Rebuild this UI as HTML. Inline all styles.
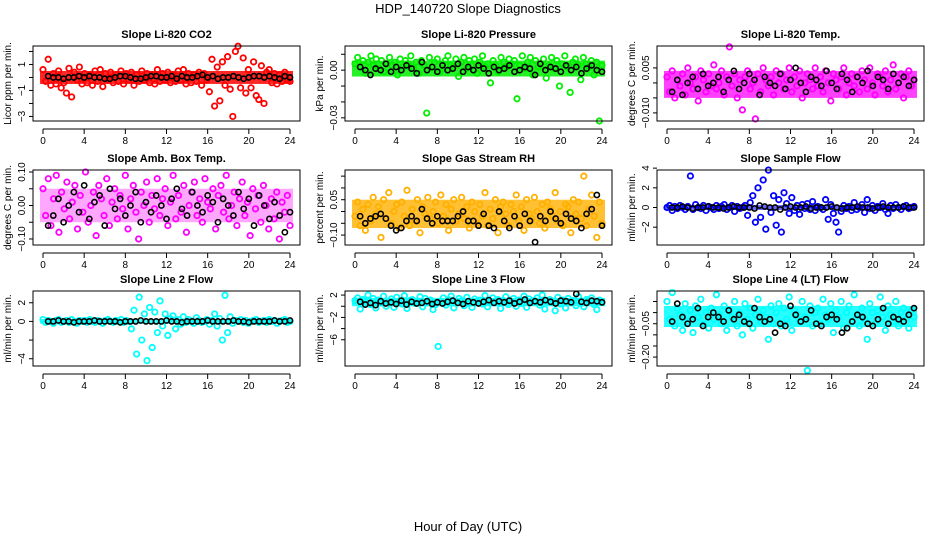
<!DOCTYPE html>
<html><head><meta charset="utf-8"><style>
body{margin:0;background:#fff}
svg{display:block;font-family:"Liberation Sans",sans-serif}
</style></head><body>
<svg id="c" width="936" height="540">
<text x="468" y="13" text-anchor="middle" font-size="13">HDP_140720  Slope Diagnostics</text>
<text x="468" y="531" text-anchor="middle" font-size="13">Hour of Day (UTC)</text>
</svg>
<script>
const xTicks=[0,4,8,12,16,20,24];
const titles=["Slope Li-820 CO2","Slope Li-820 Pressure","Slope Li-820 Temp.","Slope Amb. Box Temp.","Slope Gas Stream RH","Slope Sample Flow","Slope Line 2 Flow","Slope Line 3 Flow","Slope Line 4 (LT) Flow"];
const yTitles=["Licor ppm per min.","kPa per min.","degrees C per min.","degrees C per min.","percent per min.","ml/min per min.","ml/min per min.","ml/min per min.","ml/min per min."];
const scales=[0.1,0.001,0.001,0.01,0.01,0.1,0.1,0.1,0.01];
const yRanges=[[-3.35,2.42],[-0.032,0.0152],[-0.0127,0.0123],[-0.118,0.106],[-0.142,0.176],[-3.81,3.81],[-4.78,3.26],[-10.7,2.73],[-0.24,0.097]];
const yTickVals=[[-3,-2,-1,0,1,2],[-0.03,-0.02,-0.01,0,0.01],[-0.01,-0.005,0,0.005],[-0.1,-0.05,0,0.05,0.1],[-0.1,-0.05,0,0.05,0.1,0.15],[-2,0,2,4],[-4,-2,0,2],[-6,-4,-2,0,2],[-0.2,-0.15,-0.1,-0.05,0,0.05]];
const yTickLabels=[{"-3":"\u22123","-1":"\u22121","1":"1"},{"0":"0.00","-0.03":"\u22120.03"},{"0.005":"0.005","-0.01":"\u22120.010"},{"0.1":"0.10","0":"0.00","-0.1":"\u22120.10"},{"0.05":"0.05","-0.1":"\u22120.10"},{"4":"4","2":"2","0":"0","-2":"\u22122"},{"2":"2","0":"0","-4":"\u22124"},{"2":"2","-2":"\u22122","-6":"\u22126"},{"-0.05":"\u22120.05","-0.2":"\u22120.20"}];
const colors=["#ff0000","#00ee00","#ff00ff","#ff00ff","#ffb000","#0000ff","#00ffff","#00ffff","#00ffff"];
const coreLo=[-0.5,-0.004,-0.005,-0.05,-0.07,-0.25,-0.25,0,-0.065];
const coreHi=[0.5,0.006,0.004,0.05,0.05,0.25,0.25,1.5,0.03];
const coreOpacity=[0.85,0.85,0.75,0.35,0.8,0.6,0.8,0.85,0.85];
const s1=[6,-3,14,-6,3,-5,5,-8,-4,-12,7,-15,4,-2,8,-5,3,-4,2,-6,5,-3,6,-7,3,-2,4,-4,2,-3,5,-5,3,-2,4,-6,2,-3,5,-2,3,-4,2,-5,6,-3,3,-2,4,-4,2,-3,5,-2,6,-5,3,-4,2,-3,4,-6,3,-2,-11,14,-22,8,-18,12,-6,16,-9,-30,20,24,-8,15,-12,6,-8,12,-14,-17,9,-20,4,6,-4,3,-5,2,-3,4,-2,-3];
const s2=[4,8,2,6,-2,5,9,3,7,1,6,-1,4,8,3,5,-3,7,2,6,4,9,1,5,-2,6,3,-27,8,2,5,7,-1,4,6,9,3,2,7,-4,5,8,1,6,3,7,-2,5,9,2,4,-8,6,3,-1,8,5,2,7,4,6,-18,3,9,1,5,8,-3,6,2,4,7,-5,3,8,1,6,-10,4,9,2,-14,5,7,3,-6,8,4,2,6,-3,5,-32,3];
const s3=[2,-3,4,-5,1,-1,3,-4,5,0,-2,2,-6,4,1,-3,3,-1,6,-2,0,4,-4,2,12,-1,3,-5,1,-9,2,4,-2,0,-12,3,-3,5,1,-1,2,-4,4,0,3,-2,1,5,-3,2,-1,4,-5,0,3,1,-2,5,-1,2,-3,4,0,-6,3,1,-2,2,5,-4,0,3,-1,2,-3,4,1,-2,5,0,-4,3,2,-1,4,-3,1,6,-2,0,3,-5,2,4,-1,1];
const s4=[5,-3,8,-6,2,9,-8,4,-1,7,-4,1,6,-7,3,-2,10,-5,0,4,-9,6,2,-3,8,-6,1,5,-4,3,-1,9,-7,2,6,-2,-10,4,0,7,-5,3,-1,8,-3,2,5,-6,1,9,-4,3,-2,6,-8,0,4,7,-3,2,-5,8,1,-1,5,-7,3,6,-2,9,-4,0,4,-6,2,7,-3,1,-9,5,-1,3,-5,6,0,-7,2,-4,4,-10,1,-2,3,-6];
const s5=[-2,4,-6,1,-8,3,-4,6,-1,2,-11,5,-3,8,-5,0,3,-7,4,-2,9,-6,1,-4,5,-9,2,-1,6,-3,0,4,-5,7,-2,3,-8,1,5,-4,-1,6,-3,2,-7,4,0,-5,3,-2,8,-6,1,-3,5,-9,2,4,-1,-6,3,0,7,-4,2,-8,5,-1,-3,6,0,-5,3,-7,4,1,-2,8,-4,0,-6,3,2,-9,5,-1,4,-3,15,-6,1,7,-2,-11,4,-5];
const s6=[0,2,-3,1,-1,2,0,-2,1,32,-2,3,0,-1,2,-3,1,0,-2,2,-1,1,3,-2,0,2,-4,1,-1,0,2,-8,5,12,-15,20,-10,28,-22,38,-5,12,-18,8,-25,15,4,-6,10,-3,2,-7,3,-1,4,-2,6,-3,1,0,-2,8,-12,3,-6,-15,-25,-4,2,-1,1,-3,5,-2,0,3,-5,8,-1,2,-3,1,0,4,-2,-6,2,-1,3,0,-2,1,2,-1,0,1];
const s7=[2,-1,1,0,-2,1,2,-1,0,1,-1,2,0,-2,1,0,1,-1,2,0,-1,1,0,-2,1,2,0,-1,1,0,2,-1,1,0,-8,12,-35,26,-20,8,-42,15,-28,10,-12,22,-5,8,-15,3,6,-8,2,-3,5,-1,2,0,-2,4,1,-1,0,2,-3,1,8,-5,3,-20,28,-12,5,-2,1,0,2,-1,1,-2,0,1,2,-1,0,1,-1,2,0,1,-2,0,1,2,-1,0];
const s8=[10,15,-5,12,8,20,3,14,-3,11,6,18,0,9,13,-2,16,7,4,19,-4,10,12,5,8,17,-1,14,6,11,-6,3,-72,9,15,2,12,18,-3,7,14,10,1,16,5,-2,13,8,11,4,19,-1,9,15,6,12,-4,10,17,3,8,14,0,11,5,18,-2,13,7,10,15,2,20,-5,9,12,6,-8,16,4,11,-3,14,8,10,1,17,5,-1,12,9,15,3,-6,11,7];
const s9=[5,-3,9,-6,2,-1,-8,4,-4,1,-9,3,-2,6,-5,0,-7,2,-3,8,-1,-5,3,-8,1,-2,5,-6,0,-10,4,-3,2,-7,-1,6,-4,1,-2,-12,3,-5,0,4,-6,2,-3,7,-8,1,-1,-4,5,-2,-26,3,-6,0,2,-5,6,-1,-3,4,-9,1,-2,5,-7,0,3,-4,8,-1,-6,2,-3,-12,4,0,-5,1,7,-2,-8,3,-1,-4,5,-6,0,2,-3,-7,1,-2];
const k1=[1,0,0,-1,0,0,1,0,1,0,0,-1,-1,0,1,1,0,-1,-1,0,1,1,0,0,1,-1,1,0,0,1,2,0,1,-1,0,0,1,0,-1,0,1,1,0,1,0,-1,1,0];
const k2=[2,0,-3,1,0,4,-1,2,0,3,1,-2,5,0,2,-1,3,0,1,4,-1,2,0,3,1,-2,2,0,1,3,-1,0,2,1,-3,4,0,2,1,-1,3,0,2,-2,1,3,0,-1];
const k3=[-3,1,-4,0,2,-2,3,-1,0,2,-3,1,4,-2,0,3,1,-4,2,0,-1,3,-2,1,5,0,-3,2,1,-1,4,0,-2,3,1,-3,2,0,4,-1,2,1,-2,3,0,2,-1,1];
const k4=[-6,-3,2,-5,0,4,-2,6,-4,1,3,-6,5,-1,2,-3,0,4,-5,1,-2,3,0,-4,2,5,-1,-3,4,0,-2,3,1,-5,2,0,-3,4,-1,2,-6,3,0,-4,1,-3,-8,-2];
const k5=[-2,-5,-3,-2,-1,-3,-6,-8,-7,-4,-2,-4,1,-3,-5,-2,-4,-4,-4,-2,0,-4,-4,-6,-1,-6,-7,0,-4,-7,-2,-6,-1,-4,-13,-2,-4,0,-3,-5,-1,-3,-4,-7,-1,1,7,-6];
const k6=[0,0,1,0,-1,0,0,1,0,0,-1,0,1,0,0,0,-1,2,1,0,0,-2,0,1,0,0,1,-1,0,0,0,1,0,-1,0,0,1,0,0,-1,0,1,0,0,0,1,0,0];
const k7=[0,0,1,0,0,-1,0,0,0,1,0,0,0,0,-1,0,0,0,1,0,0,0,0,1,0,0,-1,0,0,0,0,1,0,0,0,0,1,0,0,-1,0,0,0,0,1,0,0,1];
const k8=[8,3,6,2,9,5,7,4,10,3,8,5,6,9,4,7,5,8,10,6,4,9,7,5,8,11,6,9,7,10,5,8,12,6,9,7,11,8,5,10,9,7,22,8,6,10,9,7];
const k9=[-4,4,-2,-5,-3,2,-6,-2,0,-2,-4,1,-3,-1,-4,-5,2,-2,-4,-3,-9,-5,-6,3,-1,-4,-3,1,-5,-6,-2,-1,-3,-9,-7,-4,-1,-2,-5,-6,-3,2,-5,-2,-3,-4,-1,2];
const colorSeries=[s1,s2,s3,s4,s5,s6,s7,s8,s9];
const blackSeries=[k1,k2,k3,k4,k5,k6,k7,k8,k9];

const NS="http://www.w3.org/2000/svg";
const svg=document.getElementById('c');
function mk(tag,attrs,parent){const e=document.createElementNS(NS,tag);for(const k in attrs)e.setAttribute(k,attrs[k]);(parent||svg).appendChild(e);return e;}
const colL=[33,345,657], rowT=[46,170,291], boxW=267, rowH=75;
for(let p=0;p<9;p++){
  const c=p%3,r=Math.floor(p/3);
  const L=colL[c],T=rowT[r],R=L+boxW,B=T+rowH;
  const x0=L+10,x1=R-10;
  const xs=h=>x0+h*(x1-x0)/24;
  const [lo,hi]=yRanges[p];
  const ys=v=>B-(v-lo)/(hi-lo)*(B-T);
  const g=mk('g',{});
  
  
  const t=mk('text',{x:(L+R)/2,y:T-8,'text-anchor':'middle','font-size':11,'font-weight':'bold'},g);
  t.textContent=titles[p];
  
  
  const yt=mk('text',{transform:`translate(${L-22},${(T+B)/2}) rotate(-90)`,'text-anchor':'middle','font-size':10},g);
  yt.textContent=yTitles[p];
  
  
  const band=mk('rect',{x:xs(0)-3,y:ys(coreHi[p]),width:xs(24)-xs(0)+6,height:ys(coreLo[p])-ys(coreHi[p]),fill:colors[p],opacity:coreOpacity[p]},g);
  
  
  const cs=colorSeries[p];
  cs.forEach((v,i)=>{
    const e=mk('circle',{cx:xs(i*24/(cs.length-1)),cy:ys(v*scales[p]),r:2.7,fill:'none',stroke:colors[p],'stroke-width':1.8},g);
    
    
  });
  const ks=blackSeries[p];
  ks.forEach((v,i)=>{
    const e=mk('circle',{cx:xs(0.5+i*23.5/(ks.length-1)),cy:ys(v*scales[p]),r:2.6,fill:'none',stroke:'#000','stroke-width':1.6},g);
    
    
  });
  const box=mk('rect',{x:L,y:T,width:boxW,height:rowH,fill:'none',stroke:'#000','stroke-width':1},g);
  
  
  const ay=B+8;
  mk('line',{x1:xs(0),x2:xs(24),y1:ay,y2:ay,stroke:'#000'},g);
  xTicks.forEach(h=>{
    mk('line',{x1:xs(h),x2:xs(h),y1:ay,y2:ay+5,stroke:'#000'},g);
    const tl=mk('text',{x:xs(h),y:ay+15,'text-anchor':'middle','font-size':10},g);tl.textContent=h;
    
    
  });
  yTickVals[p].forEach(v=>{
    const y=ys(v);
    mk('line',{x1:L-4,x2:L,y1:y,y2:y,stroke:'#000'},g);
    const key=String(Math.round(v*1000)/1000);
    const lab=yTickLabels[p][key];
    if(lab){const tl=mk('text',{transform:`translate(${L-8},${y}) rotate(-90)`,'text-anchor':'middle','font-size':10},g);tl.textContent=lab;
    
    }
  });
}
</script>
</body></html>
